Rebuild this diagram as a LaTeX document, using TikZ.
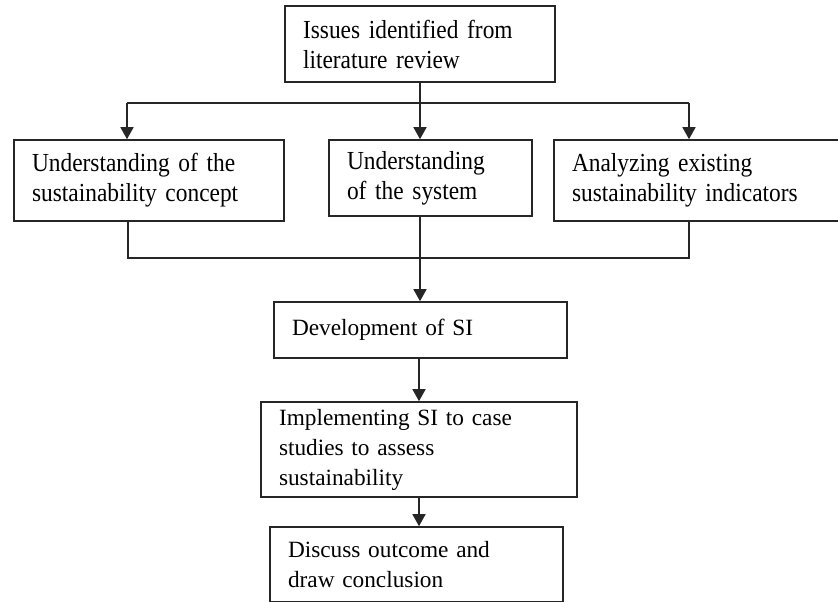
\documentclass[tikz,border=0pt]{standalone}
\usepackage{fontspec}
\setmainfont{Liberation Serif}
\newfontfamily\narrowserif[FakeStretch=0.9]{Liberation Serif}
\DeclareRobustCommand\tightwords{\spaceskip=0.18em plus 0.05em\relax}
\usetikzlibrary{arrows.meta}
\tikzset{
  box/.style={draw=black!85,line width=1.6pt,inner xsep=18pt,inner ysep=0pt,align=left,
    font=\fontsize{23.3}{30}\selectfont\tightwords},
  topbox/.style={box,font=\narrowserif\fontsize{26}{30}\selectfont\tightwords},
  flow/.style={line width=1.6pt,draw=black!85,-{Triangle[length=12pt,width=13pt]}},
  link/.style={line width=1.6pt,draw=black!85}
}
\begin{document}
\begin{tikzpicture}[x=1pt,y=-1pt]
  \useasboundingbox (0,0) rectangle (838,602);%
  \node[topbox,text width=234pt,minimum height=76pt] (issues) at (420,44) {Issues identified from\\literature review};%
  \node[topbox,text width=234pt,minimum height=81pt] (concept) at (149,180.5) {Understanding of the\\sustainability concept};%
  \node[topbox,text width=167pt,minimum height=76pt] (system) at (430.5,178) {Understanding\\of the system};%
  \node[topbox,text width=254pt,minimum height=81pt] (indic) at (699,180.5) {Analyzing existing\\sustainability indicators};%
  \node[box,text width=257pt,minimum height=56pt] (dev) at (420.5,330) {Development of SI};%
  \node[box,text width=280pt,minimum height=95pt] (impl) at (419,449.5) {Implementing SI to case\\studies to assess\\sustainability};%
  \node[box,text width=257pt,minimum height=75pt] (disc) at (416.5,564.5) {Discuss outcome and\\draw conclusion};%
  % split after the literature review
  \coordinate (split) at (420,103);%
  \coordinate (splitL) at (127,103);%
  \coordinate (splitR) at (689,103);%
  \draw[link] (issues.south -| split) -- (split);%
  \draw[link] (splitL) -- (splitR);%
  \draw[flow] (splitL) -- (splitL |- concept.north);%
  \draw[flow] (split) -- (split |- system.north);%
  \draw[flow] (splitR) -- (splitR |- indic.north);%
  % merge into the development
  \coordinate (mergeL) at (128,258);%
  \coordinate (mergeR) at (689,258);%
  \draw[link] (mergeL |- concept.south) -- (mergeL) -- (mergeR) -- (mergeR |- indic.south);%
  \draw[flow] (system.south -| split) -- (split |- dev.north);%
  \draw[flow] (dev.south -| impl.north) -- (impl.north);%
  \draw[flow] (impl.south) -- (disc.north -| impl.south);%
\end{tikzpicture}
\end{document}
